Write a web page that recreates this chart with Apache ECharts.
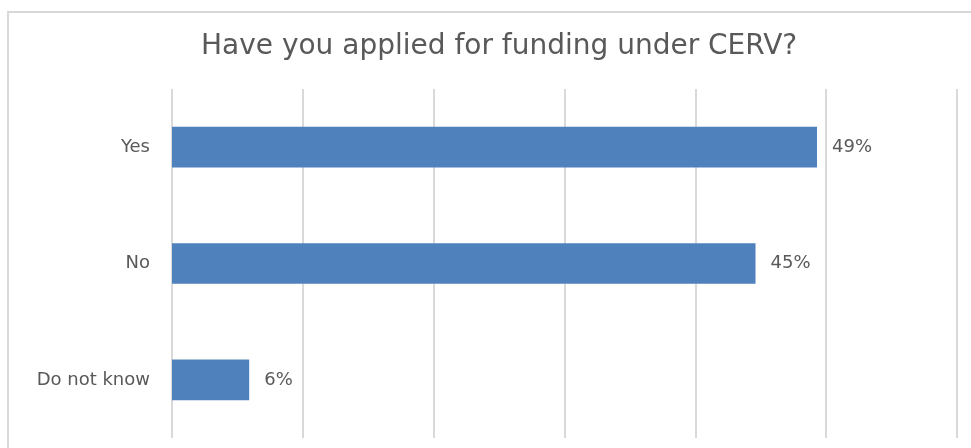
<!DOCTYPE html>
<html>
<head>
<meta charset="utf-8">
<script src="https://cdn.jsdelivr.net/npm/echarts@6/dist/echarts.min.js"></script>
<style>
  html, body { margin: 0; padding: 0; background: #fff; }
  #bar { width: 971px; height: 448px; }
</style>
</head>
<body>
<div id="bar"></div>
<script>
  // answers and shares (percent)
  let answers = ['Yes', 'No', 'Do not know'];
  let shares = [49.3, 44.6, 5.9];

  let chart = echarts.init(document.getElementById('bar'));
  chart.setOption({
    animation: false,
    title: {
      text: 'Have you applied for funding under CERV?',
      left: 196,
      top: 28,
      textStyle: {
        fontFamily: 'DejaVu Sans',
        fontWeight: 'normal',
        fontSize: 28,
        color: '#595959'
      }
    },
    graphic: [{
      type: 'rect',
      shape: { x: 8, y: 12, width: 1200, height: 600 },
      style: { fill: 'none', stroke: '#d9d9d9', lineWidth: 2 },
      silent: true
    }],
    grid: {
      left: 172,
      right: 14,
      top: 89,
      bottom: 10
    },
    xAxis: {
      type: 'value',
      min: 0,
      max: 60,
      interval: 10,
      axisLabel: { show: false },
      axisLine: { show: false },
      axisTick: { show: false },
      splitLine: { lineStyle: { color: '#d9d9d9', width: 2 } }
    },
    yAxis: {
      type: 'category',
      inverse: true,
      data: answers,
      axisLine: { show: false },
      axisTick: { show: false },
      axisLabel: {
        margin: 22,
        fontFamily: 'DejaVu Sans',
        fontSize: 18,
        color: '#595959'
      }
    },
    series: [{
      name: 'share',
      type: 'bar',
      data: shares,
      barCategoryGap: '65%',
      itemStyle: { color: '#4F81BD' },
      label: {
        show: true,
        position: 'right',
        distance: 15,
        fontFamily: 'DejaVu Sans',
        fontSize: 18,
        color: '#595959',
        formatter: function (p) { return Math.round(p.value) + '%'; }
      }
    }]
  });
</script>
</body>
</html>
